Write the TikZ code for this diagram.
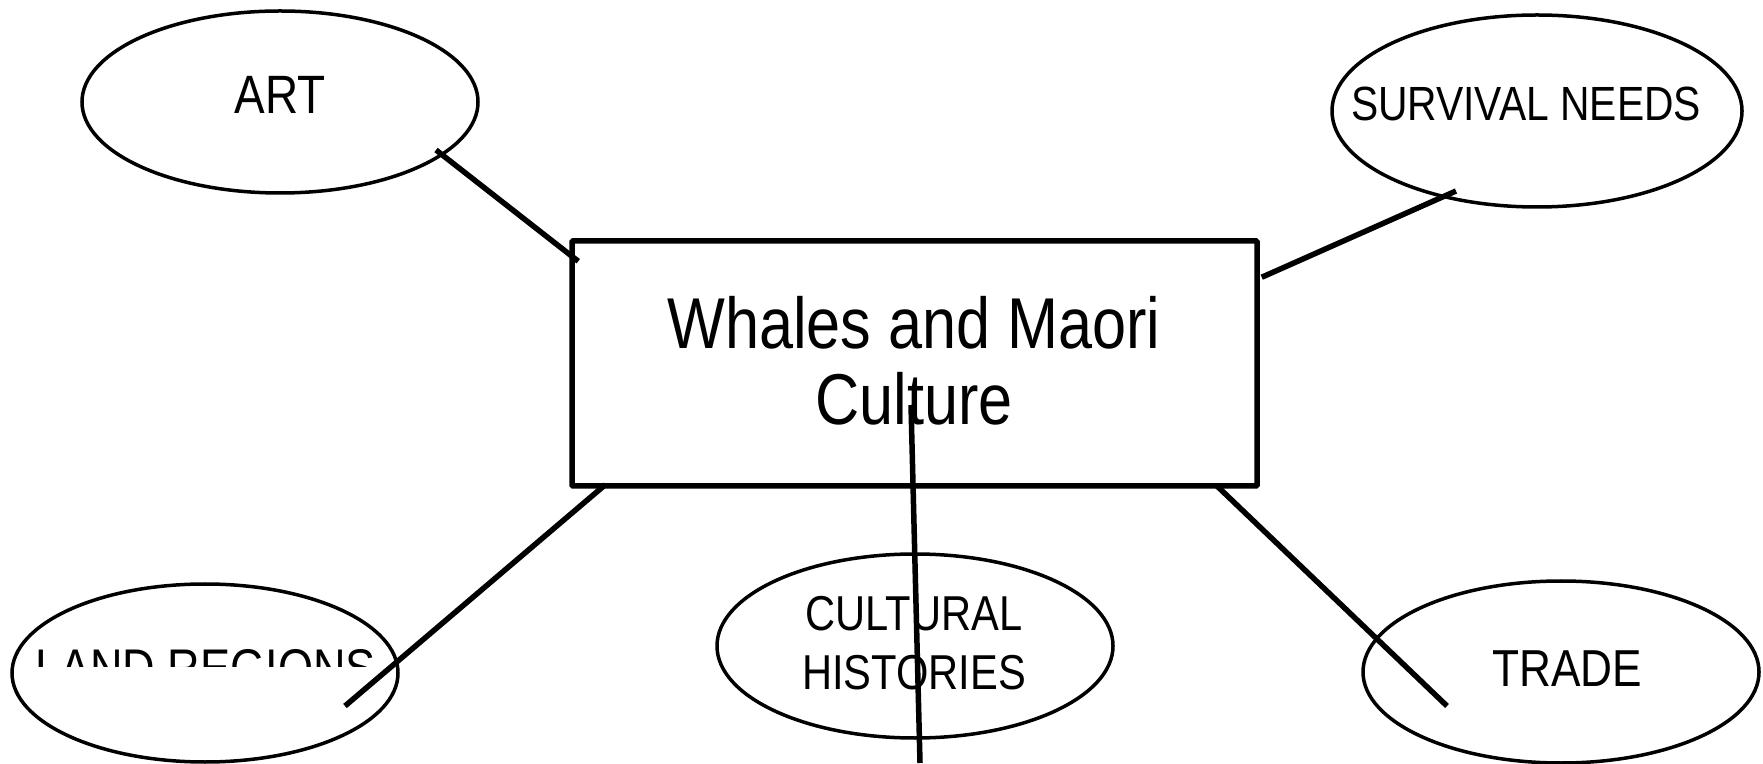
\documentclass[tikz,border=0pt]{standalone}
\usepackage{fontspec}
\setmainfont{Liberation Sans}[FakeStretch=0.85]
\usepackage{tikz}
\usetikzlibrary{shapes.geometric}
\tikzset{
  bubble/.style={ellipse,draw=black,line width=3.5pt,inner sep=0pt,minimum width=396pt,minimum height=182pt},
  topic/.style={draw=black,line width=5.5pt,rounded corners=1pt,inner sep=0pt,minimum width=685pt,minimum height=245pt},
  word/.style={inner sep=0pt,anchor=base,align=center},
  link/.style={draw=black,line width=5.5pt}
}
\begin{document}
\begin{tikzpicture}[x=1pt,y=1pt]
  \useasboundingbox (0,0) rectangle (1763,763);

  \node[topic] (box) at (914.5,399.5) {};
  \node[word,font=\fontsize{72}{76}\selectfont] (title) at (914,414) {Whales and Maori};
  \node[word,font=\fontsize{72}{76}\selectfont] (title2) at (914,338) {Culture};

  \node[bubble] (art) at (280,661) {};
  \node[bubble,minimum width=410pt,minimum height=192pt] (surv) at (1537,652) {};
  \node[bubble,minimum width=386pt,minimum height=178pt] (land) at (205,90) {};
  \node[bubble,minimum height=184pt] (hist) at (915,117) {};
  \node[bubble] (trade) at (1561,91) {};

  \node[word,font=\fontsize{54}{58}\selectfont] (artlbl) at (280,649) {ART};
  \node[word,font=\fontsize{48}{52}\selectfont] (survlbl) at (1526,642) {SURVIVAL NEEDS};
  \node[word,font=\fontsize{49}{58}\selectfont] (histlbl) at (914,132) {CULTURAL};
  \node[word,font=\fontsize{49}{58}\selectfont] (histlbl2) at (914,74) {HISTORIES};
  \node[word,font=\fontsize{52}{56}\selectfont] (tradelbl) at (1567,77) {TRADE};
  \begin{scope}
    \clip (0,97) rectangle (600,200);
    \node[word,font=\fontsize{53}{57}\selectfont] (landlbl) at (205.5,77) {LAND REGIONS};
  \end{scope}

  \draw[link] ([shift={(9,-23)}]box.north west) -- ([shift={(156,-48)}]art.center);
  \draw[link] ([shift={(2,-39)}]box.north east) -- ([shift={(-81,-80)}]surv.center);
  \draw[link] ([shift={(36,4)}]box.south west) -- ([shift={(140,-33)}]land.center);
  \draw[link] ([shift={(-3.5,-41.5)}]box.center) -- ([shift={(5,-117)}]hist.center);
  \draw[link] ([shift={(-43,3)}]box.south east) -- ([shift={(-114,-34)}]trade.center);
\end{tikzpicture}
\end{document}
